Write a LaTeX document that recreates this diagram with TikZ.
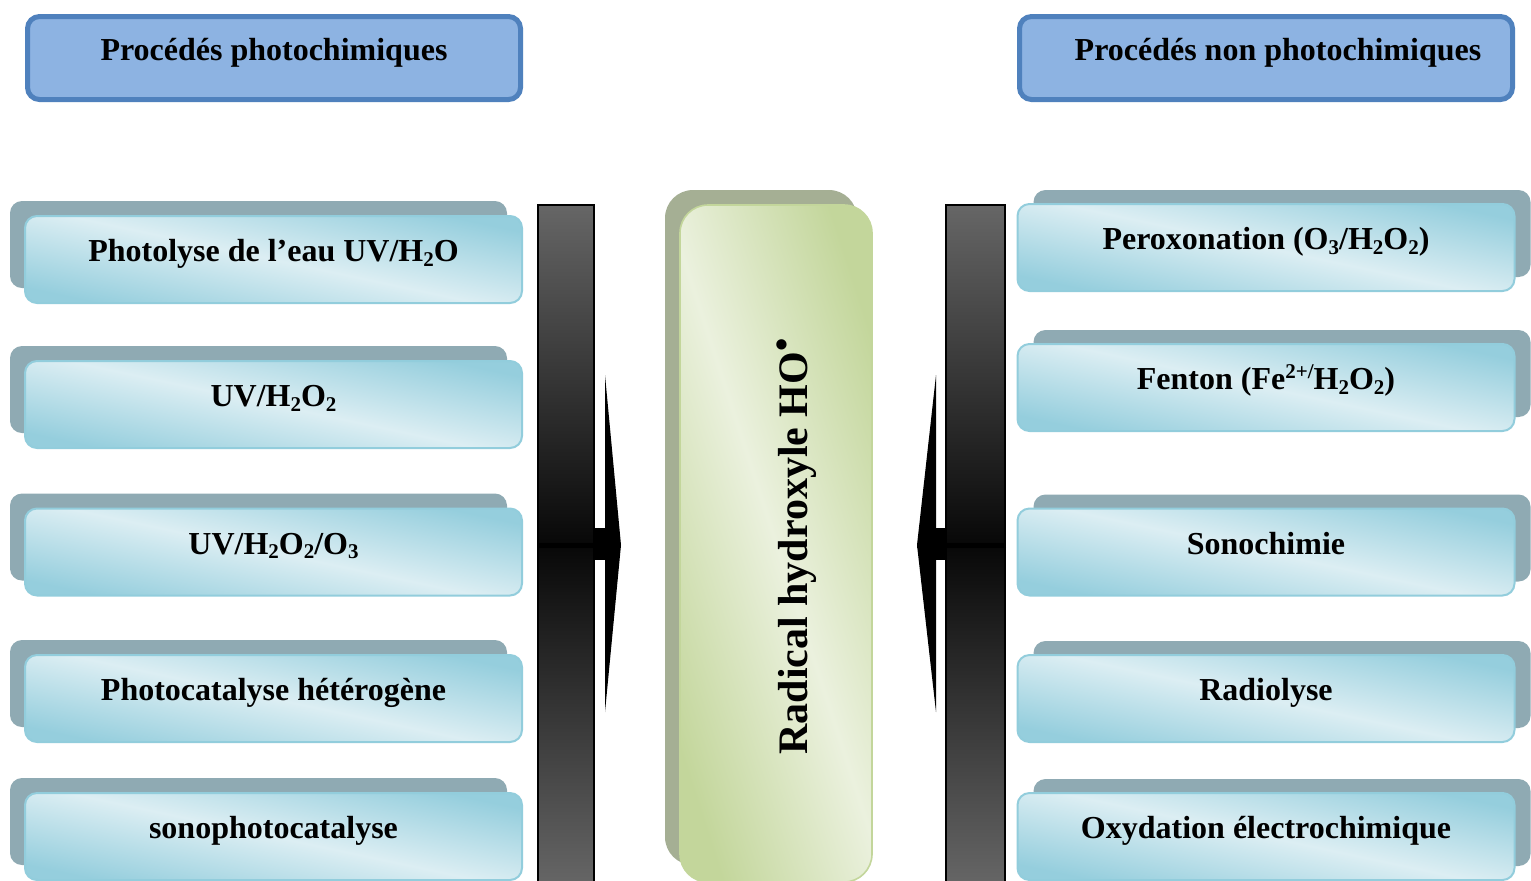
\documentclass[tikz,border=0pt]{standalone}
\usepackage{fontspec}
\setmainfont{Liberation Serif}
\usetikzlibrary{calc}
\definecolor{hdrfill}{HTML}{8DB3E2}
\definecolor{hdrdraw}{HTML}{4F81BD}
\definecolor{cyanlight}{HTML}{DCEEF3}
\definecolor{cyandark}{HTML}{95CEDD}
\definecolor{cyanedge}{HTML}{92CDDC}
\definecolor{shadowc}{HTML}{8FAAB3}
\definecolor{greenlight}{HTML}{EBF1DE}
\definecolor{greendark}{HTML}{C3D69B}
\definecolor{greenshadow}{HTML}{A5AF94}
\newcommand\lowsub[1]{\raisebox{-0.3ex}{\fontsize{10.5}{11}\selectfont #1}}
\newcommand\highsup[1]{\raisebox{0.75ex}{\fontsize{10.5}{11}\selectfont #1}}
\newcommand\raddot{\raisebox{6.5pt}{\fontsize{19}{19}\selectfont •}}
\tikzset{
  boxfont/.style={font=\fontsize{16}{19}\selectfont\bfseries, text height=9.1pt, text depth=7pt},
  hdr/.style={boxfont, draw=hdrdraw, line width=2.5pt, fill=hdrfill, rounded corners=6pt,
    minimum width=246.5pt, minimum height=41.5pt, inner sep=0pt},
  procbox/.style={boxfont, draw=cyanedge, line width=1pt, rounded corners=6pt,
    top color=cyandark, bottom color=cyandark, middle color=cyanlight, shading angle=-12,
    minimum width=248.5pt, minimum height=43.5pt, inner sep=0pt},
  procshadow/.style={fill=shadowc, rounded corners=6pt, minimum width=248.5pt,
    minimum height=43.5pt, inner sep=0pt},
  hubbox/.style={draw=greendark, line width=0.8pt, rounded corners=14pt,
    top color=greendark, bottom color=greendark, middle color=greenlight, shading angle=-72,
    minimum width=96pt, minimum height=338.5pt, inner sep=0pt},
  hubshadow/.style={fill=greenshadow, rounded corners=14pt, minimum width=96pt,
    minimum height=337.5pt, inner sep=0pt},
  barbox/.style={draw=black, line width=1pt, top color=black!60, bottom color=black!60,
    middle color=black!97, minimum height=340pt, inner sep=0pt},
}
\begin{document}
\begin{tikzpicture}[x=0.5pt,y=-0.5pt]
\useasboundingbox (0,0) rectangle (1531,880);
\clip (0,0) rectangle (1531,880);
\fill[white] (0,0) rectangle (1531,880);

% headers
\node[hdr] (hL) at (274,58) {Procédés photochimiques};
\node[hdr] (hR) at (1266,58) {\hspace*{12pt}Procédés non photochimiques};

% left column
\node[procshadow] (sl1) at (258.5,244.5) {};
\node[procbox] (l1) at (273.5,259.5) {Photolyse de l’eau UV/H\lowsub{2}O};
\node[procshadow] (sl2) at (258.5,389.5) {};
\node[procbox] (l2) at (273.5,404.5) {UV/H\lowsub{2}O\lowsub{2}};
\node[procshadow] (sl3) at (258.5,537) {};
\node[procbox] (l3) at (273.5,552) {UV/H\lowsub{2}O\lowsub{2}/O\lowsub{3}};
\node[procshadow] (sl4) at (258.5,683.5) {};
\node[procbox] (l4) at (273.5,698.5) {Photocatalyse hétérogène};
\node[procshadow] (sl5) at (258.5,821.5) {};
\node[procbox] (l5) at (273.5,836.5) {sonophotocatalyse};

% right column
\node[procshadow] (sr1) at (1282,233.5) {};
\node[procbox] (r1) at (1266,247.5) {Peroxonation (O\lowsub{3}/H\lowsub{2}O\lowsub{2})};
\node[procshadow] (sr2) at (1282,373.5) {};
\node[procbox] (r2) at (1266,387.5) {Fenton (Fe\highsup{2+/}H\lowsub{2}O\lowsub{2})};
\node[procshadow] (sr3) at (1282,538) {};
\node[procbox] (r3) at (1266,552) {Sonochimie};
\node[procshadow] (sr4) at (1282,684.5) {};
\node[procbox] (r4) at (1266,698.5) {Radiolyse};
\node[procshadow] (sr5) at (1282,822.5) {};
\node[procbox] (r5) at (1266,836.5) {Oxydation électrochimique};

% bars
\node[barbox, minimum width=28pt] (barL) at (566,545) {};
\node[barbox, minimum width=29.5pt] (barR) at (975.5,545) {};

% central hub
\node[hubshadow] (hubS) at (761,527.5) {};
\node[hubbox] (hub) at (776,543.5) {};
\node[rotate=90, anchor=base west, font=\fontsize{21}{25}\selectfont\bfseries, inner sep=0pt]
  (radtxt) at (807,755) {Radical hydroxyle HO\raddot};

% left arrow
\coordinate (tipL) at (621,545);
\fill[black] (594,528) rectangle (607,560);
\fill[black] (605,375) -- (tipL) -- (605,712) -- cycle;
\draw[black, line width=2.5pt] (barL.west) -- (tipL);

% right arrow
\coordinate (tipR) at (917,545);
\fill[black] (934,528) rectangle (947,560);
\fill[black] (936,375) -- (tipR) -- (936,712) -- cycle;
\draw[black, line width=2.5pt] (barR.east) -- (tipR);
\end{tikzpicture}
\end{document}
